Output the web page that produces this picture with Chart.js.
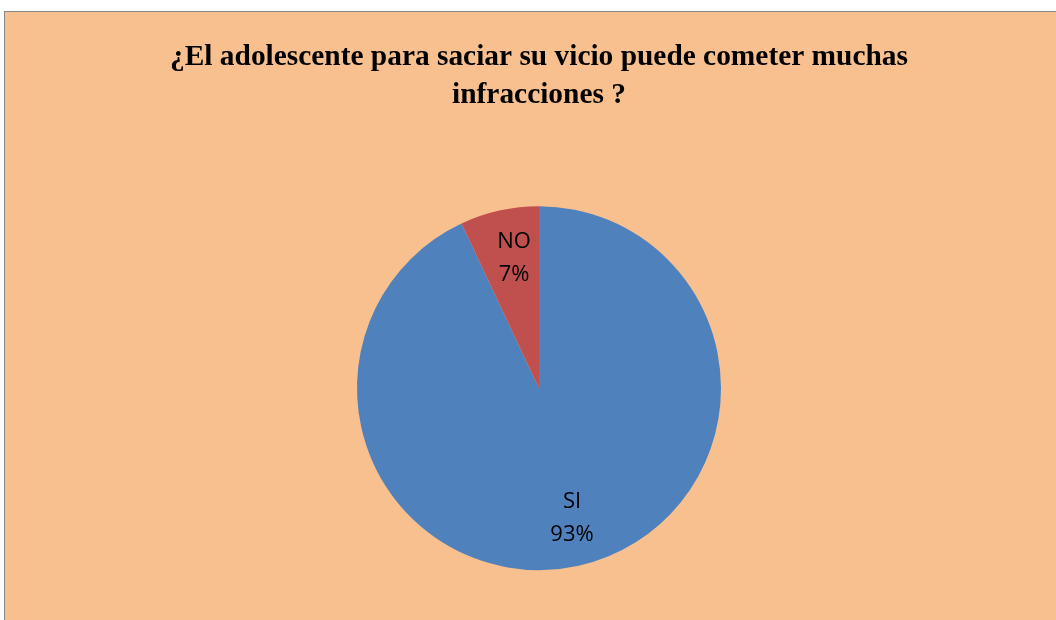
<!DOCTYPE html>
<html>
<head>
<meta charset="utf-8">
<script src="https://cdn.jsdelivr.net/npm/chart.js@4.4.1/dist/chart.umd.min.js"></script>
<style>
  html, body { margin: 0; padding: 0; background: #ffffff; overflow: hidden; }
  #frame {
    position: absolute; left: 4px; top: 11px;
    width: 1060px; height: 620px;
    border: 1px solid #8a8a8a;
    background: #F9C08F;
  }
  #wrap { position: absolute; left: 0; top: 0; width: 1051px; height: 608px; }
</style>
</head>
<body>
<div id="frame"><div id="wrap"><canvas id="c"></canvas></div></div>
<script>
// Survey answers
const categories = ['SI', 'NO'];
const percentages = [93, 7];
const sliceColors = ['#4F81BD', '#C0504D'];
const titleLines = ['¿El adolescente para saciar su vicio puede cometer muchas', 'infracciones ?'];

// Category name and percentage written inside each slice
const sliceLabels = {
  id: 'sliceLabels',
  afterDatasetsDraw(chart) {
    const ctx = chart.ctx;
    const meta = chart.getDatasetMeta(0);
    ctx.save();
    ctx.font = '22px "Open Sans", sans-serif';
    ctx.fillStyle = '#000000';
    ctx.textAlign = 'center';
    ctx.textBaseline = 'middle';
    meta.data.forEach((arc, i) => {
      const p = arc.getProps(['x', 'y', 'startAngle', 'endAngle', 'outerRadius']);
      const mid = (p.startAngle + p.endAngle) / 2;
      const r = p.outerRadius * 0.73;
      const x = p.x + Math.cos(mid) * r + 4;
      const y = p.y + Math.sin(mid) * r;
      ctx.fillText(categories[i], x, y - 16.5);
      ctx.fillText(percentages[i] + '%', x, y + 16.5);
    });
    ctx.restore();
  }
};

new Chart(document.getElementById('c'), {
  type: 'pie',
  data: {
    labels: categories,
    datasets: [{
      data: percentages,
      backgroundColor: sliceColors,
      borderWidth: 0,
      radius: 182
    }]
  },
  options: {
    responsive: true,
    maintainAspectRatio: false,
    animation: false,
    layout: { padding: { left: 17, right: 0, top: 0, bottom: 50 } },
    plugins: {
      legend: { display: false },
      tooltip: { enabled: false },
      title: {
        display: true,
        text: titleLines,
        color: '#000000',
        font: { family: '"Liberation Serif", "Times New Roman", serif', size: 29.4, weight: 'bold', lineHeight: 1.28 },
        padding: { top: 27, bottom: 92 }
      }
    }
  },
  plugins: [sliceLabels]
});
</script>
</body>
</html>
